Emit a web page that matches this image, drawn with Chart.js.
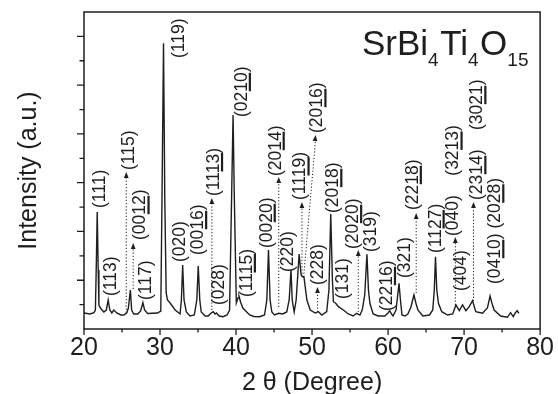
<!DOCTYPE html>
<html>
<head>
<meta charset="utf-8">
<script src="https://cdn.jsdelivr.net/npm/chart.js@4.4.1/dist/chart.umd.min.js"></script>
<style>
  html, body { margin: 0; padding: 0; background: #fff; }
</style>
</head>
<body>
<canvas id="xrd" width="558" height="394"></canvas>
<script>
// ---- data (2θ in degrees, intensity in arbitrary units) ----
const twoTheta = [
  20.00, 20.78, 21.31, 21.50, 21.63, 21.74, 21.87, 21.96, 22.18, 22.61,
  22.94, 23.18, 23.40, 23.66, 23.92, 24.31, 24.84, 25.23, 25.62, 25.84,
  26.10, 26.27, 26.54, 27.06, 27.45, 27.75, 27.97, 28.37, 29.02, 29.67,
  30.10, 30.26, 30.46, 30.63, 30.81, 30.98, 31.33, 31.99, 32.64, 32.81,
  32.98, 33.16, 33.46, 33.95, 34.51, 34.84, 35.03, 35.23, 35.42, 35.95,
  36.34, 36.73, 37.00, 37.22, 37.42, 37.78, 38.30, 38.82, 39.15, 39.41,
  39.61, 39.78, 40.04, 40.26, 40.39, 40.59, 40.92, 41.79, 42.35, 43.10,
  43.75, 44.05, 44.27, 44.48, 44.71, 45.06, 45.62, 46.14, 46.67, 46.99,
  47.23, 47.39, 47.65, 47.91, 48.30, 48.56, 48.80, 48.93, 49.32, 49.76,
  50.42, 50.85, 51.28, 51.93, 52.22, 52.46, 52.68, 52.81, 53.11, 53.46,
  54.12, 54.77, 55.42, 55.86, 56.30, 56.60, 56.93, 57.22, 57.42, 57.61,
  58.04, 58.69, 59.57, 60.00, 60.22, 60.46, 60.65, 61.05, 61.44, 61.63,
  61.83, 62.22, 62.61, 63.01, 63.40, 63.66, 63.92, 64.58, 65.45, 65.88,
  66.08, 66.24, 66.41, 66.63, 67.06, 67.84, 68.50, 68.93, 69.37, 69.80,
  70.24, 70.68, 71.11, 71.54, 72.42, 73.07, 73.42, 73.66, 73.95, 74.81,
  75.69, 76.12, 76.47, 76.73, 76.99, 77.21
];
const intensity = [
  16, 15, 16.3, 19, 69, 117, 59, 24, 20.7, 17,
  19, 29, 19, 16, 19, 16, 14, 14, 16, 21,
  39, 19, 15, 15, 18, 26.3, 19, 15.5, 15.7, 16,
  18, 129, 285.7, 129, 36, 29, 26, 19, 15, 29,
  64, 29, 17, 13, 14, 29, 63, 29, 17, 13,
  13, 16, 17.3, 15, 16, 13, 12.3, 14, 19, 129,
  214, 129, 26, 31, 33, 27, 20.7, 14, 12.5, 12.3,
  14, 29, 79, 29, 17, 14, 15.7, 15, 17, 29,
  59, 29, 17, 29, 75, 54, 52, 52.3, 29, 19,
  16, 17.3, 14, 17.3, 39, 115, 49, 27.3, 25.7, 22.3,
  19, 15, 13, 15.7, 14, 19, 34, 74.7, 39, 25.7,
  15, 13, 13, 16, 18.3, 15, 13, 19, 45.7, 29,
  14, 13, 15, 22, 34, 26, 19, 13, 14, 19,
  39, 72.3, 39, 25.7, 17.3, 14, 15, 24, 18.3, 24,
  18.3, 22.3, 28.3, 17.3, 15.7, 21, 33, 26, 19, 13,
  11.7, 16.3, 12.3, 16, 18.3, 15.7
];

// Miller indices; text between _ _ is underlined (bar index)
const peakLabels = [
  "(111)", "(113)", "(115)", "(00_12_)", "(117)", "(119)", "(020)", "(00_16_)",
  "(11_13_)", "(028)", "(02_10_)", "(11_15_)", "(00_20_)", "(20_14_)", "(220)",
  "(11_19_)", "(20_16_)", "(228)", "(20_18_)", "(131)", "(20_20_)", "(319)",
  "(22_16_)", "(321)", "(22_18_)", "(11_27_)", "(404)", "(040)    (32_13_)",
  "(23_14_)    (30_21_)", "(04_10_) (20_28_)"
];
const labelTheta = [
  22.09, 23.53, 25.88, 27.45, 28.17, 32.55, 32.68, 35.03, 37.12, 37.78,
  40.78, 41.44, 44.05, 45.23, 46.80, 48.50, 50.72, 50.85, 52.81, 54.12,
  55.42, 57.78, 59.87, 62.22, 63.27, 66.27, 69.67, 68.63, 71.76, 74.12
];
const labelBase = [
  121, 33, 159, 89, 29, 271, 67, 74, 133, 24,
  212, 32, 81, 153, 57, 129, 196, 44, 116, 30,
  80, 77, 18, 51, 119, 76, 38, 93, 129, 45
];

// dotted arrows pointing from weak reflections up to their labels
const arrowFromTheta = [25.56, 26.47, 36.82, 45.62, 48.67, 48.89, 50.72, 56.08, 63.70, 68.85, 71.24];
const arrowFromI     = [16, 40, 19, 22, 52, 52, 17, 17, 36, 24, 28];
const arrowToTheta   = [25.56, 26.47, 36.82, 45.62, 48.67, 50.46, 50.72, 56.08, 63.70, 68.85, 71.24];
const arrowToI       = [157, 86, 131, 152, 127, 194, 42, 79, 116, 92, 127];

const xLabelTicks = [20, 30, 40, 50, 60, 70, 80];
const xMinorTicks = [25, 35, 45, 55, 65, 75];
const yMax = 317;
const yTickCount = 13;

const ink = "#1e1e1e";
const family = "'Liberation Sans', Arial, Helvetica, sans-serif";

// formula text, [text, isSubscript]
const formula = [["Sr", 0], ["Bi", 0], ["4", 1], ["Ti", 0], ["4", 1], ["O", 0], ["15", 1]];

/*****************************************************
 * decorations: frame, tick marks, labels, arrows
 *****************************************************/
function drawRotatedLabel(ctx, text, px, py) {
  const parts = text.split("_");
  const plain = parts.join("");
  ctx.save();
  ctx.translate(px, py);
  ctx.rotate(-Math.PI / 2);
  ctx.textAlign = "left";
  ctx.textBaseline = "middle";
  ctx.fillText(plain, 0, 0);
  let offset = 0;
  parts.forEach((p, i) => {
    const w = ctx.measureText(p).width;
    if (i % 2 === 1) {
      ctx.fillRect(offset + 0.5, 6.8, w - 1, 2.2);
    }
    offset += w;
  });
  ctx.restore();
}

function drawArrow(ctx, x1, y1, x2, y2) {
  ctx.save();
  ctx.setLineDash([1.2, 2]);
  ctx.lineWidth = 1;
  ctx.beginPath();
  ctx.moveTo(x1, y1);
  ctx.lineTo(x2, y2 + 5);
  ctx.stroke();
  ctx.setLineDash([]);
  const ang = Math.atan2(y2 - y1, x2 - x1);
  ctx.translate(x2, y2);
  ctx.rotate(ang);
  ctx.beginPath();
  ctx.moveTo(0, 0);
  ctx.lineTo(-6, -2.4);
  ctx.lineTo(-6, 2.4);
  ctx.closePath();
  ctx.fill();
  ctx.restore();
}

const xrdDecor = {
  id: "xrdDecor",
  afterDatasetsDraw(chart) {
    const { ctx, chartArea: area, scales: { x, y } } = chart;
    ctx.save();
    ctx.strokeStyle = ink;
    ctx.fillStyle = ink;

    // frame
    ctx.lineWidth = 1.5;
    ctx.strokeRect(area.left, area.top, area.right - area.left, area.bottom - area.top);

    // x ticks (outside)
    ctx.lineWidth = 1.3;
    ctx.beginPath();
    xLabelTicks.forEach(v => {
      const px = x.getPixelForValue(v);
      ctx.moveTo(px, area.bottom);
      ctx.lineTo(px, area.bottom + 6);
    });
    xMinorTicks.forEach(v => {
      const px = x.getPixelForValue(v);
      ctx.moveTo(px, area.bottom);
      ctx.lineTo(px, area.bottom + 3.5);
    });
    // y ticks (outside)
    for (let k = 1; k < yTickCount; k++) {
      const py = y.getPixelForValue(k * yMax / yTickCount);
      const len = k % 2 === 0 ? 7 : 4.5;
      ctx.moveTo(area.left, py);
      ctx.lineTo(area.left - len, py);
    }
    ctx.stroke();

    // arrows
    for (let i = 0; i < arrowFromTheta.length; i++) {
      drawArrow(ctx,
        x.getPixelForValue(arrowFromTheta[i]), y.getPixelForValue(arrowFromI[i]),
        x.getPixelForValue(arrowToTheta[i]), y.getPixelForValue(arrowToI[i]));
    }

    // peak labels
    ctx.font = "17.5px " + family;
    peakLabels.forEach((t, i) => {
      drawRotatedLabel(ctx, t, x.getPixelForValue(labelTheta[i]), y.getPixelForValue(labelBase[i]));
    });

    // compound name
    let cx = 362;
    const base = 55;
    ctx.textAlign = "left";
    ctx.textBaseline = "alphabetic";
    formula.forEach(([s, sub]) => {
      ctx.font = (sub ? "19px " : "35px ") + family;
      ctx.fillText(s, cx, sub ? base + 11 : base);
      cx += ctx.measureText(s).width + (sub ? 1.5 : 0);
    });

    ctx.restore();
  }
};

/*****************************************************
 * chart
 *****************************************************/
const ctx = document.getElementById("xrd").getContext("2d");
new Chart(ctx, {
  type: "scatter",
  data: {
    datasets: [{
      data: twoTheta.map((t, i) => ({ x: t, y: intensity[i] })),
      showLine: true,
      borderColor: ink,
      borderWidth: 1.4,
      pointRadius: 0,
      tension: 0,
      fill: false
    }]
  },
  options: {
    responsive: false,
    animation: false,
    devicePixelRatio: 1,
    layout: { padding: { top: 12, right: 15, bottom: 0, left: 0 } },
    plugins: { legend: { display: false }, tooltip: { enabled: false } },
    scales: {
      x: {
        type: "linear",
        min: 20,
        max: 80,
        afterBuildTicks: s => { s.ticks = xLabelTicks.map(v => ({ value: v })); },
        afterFit: s => { s.height = 65; },
        grid: { display: false, drawTicks: false },
        border: { display: false },
        ticks: { padding: 4, color: ink, maxRotation: 0, autoSkip: false,
                 font: { size: 25, family } },
        title: { display: true, text: "2 θ (Degree)", color: ink,
                 font: { size: 25, family, lineHeight: 0.8 }, padding: { top: 0, bottom: 1 } }
      },
      y: {
        min: 0,
        max: yMax,
        afterFit: s => { s.width = 84; },
        grid: { display: false, drawTicks: false },
        border: { display: false },
        ticks: { display: false },
        title: { display: true, text: "Intensity (a.u.)", color: ink,
                 font: { size: 25, family }, padding: { top: 14, bottom: 0 } }
      }
    }
  },
  plugins: [xrdDecor]
});
</script>
</body>
</html>
